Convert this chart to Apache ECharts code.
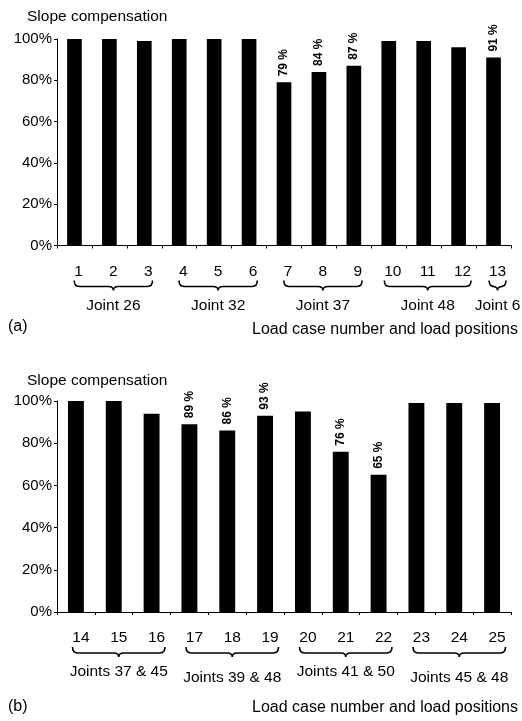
<!DOCTYPE html>
<html>
<head>
<meta charset="utf-8">
<script src="https://cdn.jsdelivr.net/npm/echarts@6/dist/echarts.min.js"></script>
<style>
  html, body { margin: 0; padding: 0; background: #fff; }
  #chart { width: 522px; height: 721px; }
</style>
</head>
<body>
<div id="chart"></div>
<script>
// Panel (a): load cases 1-13
const categoriesA = ['1', '2', '3', '4', '5', '6', '7', '8', '9', '10', '11', '12', '13'];
const valuesA = [100, 100, 99, 100, 100, 100, 79, 84, 87, 99, 99, 96, 91];
const annotatedA = ['7', '8', '9', '13'];
const groupsA = [[0, 2, 0], [3, 5, 0], [6, 8, 0], [9, 11, 0], [12, 12, 0]];
const groupNamesA = ['Joint 26', 'Joint 32', 'Joint 37', 'Joint 48', 'Joint 6'];

// Panel (b): load cases 14-25
const categoriesB = ['14', '15', '16', '17', '18', '19', '20', '21', '22', '23', '24', '25'];
const valuesB = [100, 100, 94, 89, 86, 93, 95, 76, 65, 99, 99, 99];
const annotatedB = ['17', '18', '19', '21', '22'];
const groupsB = [[0, 2, 0], [3, 5, 1], [6, 8, 0], [9, 11, 1]];
const groupNamesB = ['Joints 37 & 45', 'Joints 39 & 48', 'Joints 41 & 50', 'Joints 45 & 48'];

const yTicks = [0, 20, 40, 60, 80, 100];

const FONT = "'Liberation Sans', Arial, sans-serif";
const chart = echarts.init(document.getElementById('chart'), null, { renderer: 'canvas' });

function barData(cats, vals, annotated) {
  return vals.map((v, i) => ({
    value: v,
    label: { show: annotated.indexOf(cats[i]) >= 0 }
  }));
}

// Curly braces under each group of load cases, with the joint name beneath
function braceRenderer(cats, names, shift) {
  return function (params, api) {
    const s = api.value(0), e = api.value(1), row = api.value(2);
    const ps = api.coord([s, 0]);
    const pe = api.coord([e, 0]);
    const x1 = ps[0] + shift - cats[s].length * 4.2;
    const x2 = pe[0] + shift + cats[e].length * 4.2;
    const xm = (x1 + x2) / 2;
    const base = ps[1];
    const y0 = base + 35, yh = base + 41, tip = base + 45;
    const r = 5;
    const path = 'M' + x1 + ' ' + y0 +
      ' Q' + x1 + ' ' + yh + ' ' + (x1 + r) + ' ' + yh +
      ' L' + (xm - r) + ' ' + yh +
      ' Q' + xm + ' ' + yh + ' ' + xm + ' ' + tip +
      ' Q' + xm + ' ' + yh + ' ' + (xm + r) + ' ' + yh +
      ' L' + (x2 - r) + ' ' + yh +
      ' Q' + x2 + ' ' + yh + ' ' + x2 + ' ' + y0;
    return {
      type: 'group',
      children: [
        { type: 'path', shape: { pathData: path }, style: { stroke: '#000', fill: 'none', lineWidth: 1.6 } },
        { type: 'text', style: {
            text: names[params.dataIndex], x: xm, y: base + 60 + row * 6,
            align: 'center', verticalAlign: 'middle', fill: '#000',
            fontSize: 15.5, fontFamily: FONT } }
      ]
    };
  };
}

function yAxisCfg(gridIndex) {
  return {
    type: 'value', gridIndex, min: yTicks[0], max: yTicks[yTicks.length - 1], interval: 20,
    axisLine: { show: true, lineStyle: { color: '#000', width: 1 } },
    axisTick: { show: true, length: 3, lineStyle: { color: '#000' } },
    splitLine: { show: false },
    axisLabel: { formatter: '{value}%', color: '#000', fontSize: 15, fontFamily: FONT, margin: 5 }
  };
}

function xAxisCfg(gridIndex, cats, padLeft) {
  return {
    type: 'category', gridIndex, data: cats,
    axisLine: { show: true, lineStyle: { color: '#000', width: 1 } },
    axisTick: { show: true, length: 3, alignWithLabel: false, lineStyle: { color: '#000' } },
    axisLabel: { color: '#000', fontSize: 15.5, fontFamily: FONT, margin: 18, interval: 0,
                 padding: [0, 0, 0, padLeft] }
  };
}

const valueLabel = {
  position: 'top', rotate: 90, align: 'left', verticalAlign: 'middle', distance: 6,
  formatter: '{c} %', color: '#000', fontSize: 12, fontWeight: 'bold', fontFamily: FONT
};

const titleStyle = { fontSize: 15.5, fontWeight: 'normal', color: '#000', fontFamily: FONT };

chart.setOption({
  animation: false,
  backgroundColor: '#fff',
  title: [
    { text: 'Slope compensation', left: 22, top: 4, textStyle: titleStyle },
    { text: 'Slope compensation', left: 22, top: 368, textStyle: titleStyle }
  ],
  grid: [
    { left: 57, right: 11, top: 39, height: 206.5 },
    { left: 57, right: 11, top: 401, height: 211 }
  ],
  xAxis: [xAxisCfg(0, categoriesA, 8), xAxisCfg(1, categoriesB, 10)],
  yAxis: [yAxisCfg(0), yAxisCfg(1)],
  series: [
    { type: 'bar', xAxisIndex: 0, yAxisIndex: 0, barWidth: '42%',
      itemStyle: { color: '#000' }, label: valueLabel,
      data: barData(categoriesA, valuesA, annotatedA) },
    { type: 'bar', xAxisIndex: 1, yAxisIndex: 1, barWidth: '42%',
      itemStyle: { color: '#000' }, label: valueLabel,
      data: barData(categoriesB, valuesB, annotatedB) },
    { type: 'custom', xAxisIndex: 0, yAxisIndex: 0, clip: false, silent: true,
      encode: { x: [0, 1], y: 2 },
      renderItem: braceRenderer(categoriesA, groupNamesA, 4), data: groupsA },
    { type: 'custom', xAxisIndex: 1, yAxisIndex: 1, clip: false, silent: true,
      encode: { x: [0, 1], y: 2 },
      renderItem: braceRenderer(categoriesB, groupNamesB, 5), data: groupsB }
  ],
  graphic: [
    { type: 'text', left: 8, top: 319, style: { text: '(a)', fontSize: 16, fontFamily: FONT, fill: '#000' } },
    { type: 'text', right: 4, top: 322, style: { text: 'Load case number and load positions', fontSize: 16, fontFamily: FONT, fill: '#000' } },
    { type: 'text', left: 8, top: 699, style: { text: '(b)', fontSize: 16, fontFamily: FONT, fill: '#000' } },
    { type: 'text', right: 4, top: 700, style: { text: 'Load case number and load positions', fontSize: 16, fontFamily: FONT, fill: '#000' } }
  ]
});
</script>
</body>
</html>
